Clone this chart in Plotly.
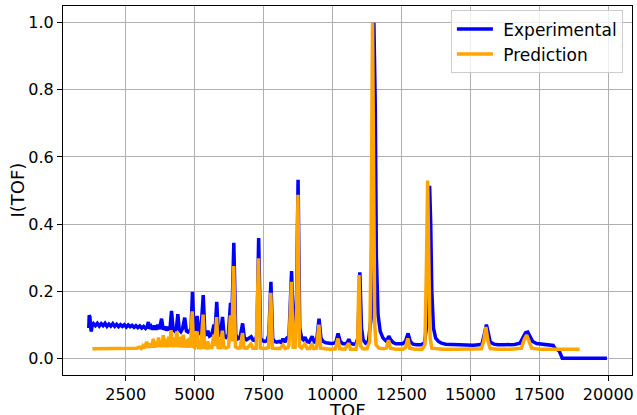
import plotly.graph_objects as go

# ---------------- data ----------------
exp_tof = [
    1160, 1175, 1200, 1225, 1250, 1280, 1330, 1400, 1470, 1540, 1610, 1680,
    1750, 1820, 1890, 1960, 2030, 2100, 2170, 2240, 2310, 2380, 2450, 2520,
    2590, 2660, 2730, 2800, 2870, 2940, 3010, 3080, 3150, 3220,
    3280, 3320, 3360, 3420, 3480, 3540, 3600, 3660, 3720, 3800, 3860, 3920,
    3980, 4040, 4100, 4160, 4220, 4280, 4340, 4390, 4440, 4500, 4560, 4640,
    4700, 4760, 4830, 4870, 4920, 4970,
    5020, 5090, 5150, 5220, 5310, 5370, 5420, 5480, 5540, 5620, 5700, 5740,
    5800, 5860, 5930, 6010, 6070, 6140, 6220, 6300, 6350, 6420, 6490, 6560,
    6640, 6740, 6800, 6880, 6960, 7050, 7120, 7200, 7260, 7320, 7390, 7460,
    7540, 7620, 7690, 7765, 7830, 7900, 7980, 8060, 8130, 8200, 8270, 8340,
    8420, 8515, 8580, 8640, 8700, 8750, 8810, 8880,
    8940, 9000, 9070, 9150, 9260, 9340, 9420, 9510, 9580, 9660, 9760, 9860,
    9960, 10060, 10130, 10200, 10280, 10380, 10480, 10540, 10590, 10650,
    10750, 10850, 10920, 10990, 11050, 11110, 11200, 11300, 11400, 11450,
    11500, 11550, 11590, 11650, 11730, 11830, 11930, 11980, 12040, 12110,
    12200, 12300, 12420, 12540, 12640, 12740, 12820, 12920, 13050, 13200,
    13330, 13420, 13470, 13520, 13560, 13600, 13660, 13740, 13840, 13950,
    14100, 14300, 14500, 14700, 14900, 15100, 15300, 15420, 15500, 15580,
    15650, 15720, 15850, 16000, 16200, 16400, 16600, 16800, 16900, 17000,
    17080, 17160, 17260, 17400, 17550, 17700, 17850, 18000, 18060, 18150,
    18220, 18280, 18330, 19950,
]
exp_int = [
    0.090, 0.128, 0.124, 0.095, 0.080, 0.096, 0.103, 0.097, 0.104, 0.096, 0.103, 0.097,
    0.104, 0.095, 0.102, 0.096, 0.103, 0.095, 0.101, 0.094, 0.100, 0.095, 0.100, 0.093,
    0.099, 0.094, 0.098, 0.092, 0.097, 0.091, 0.096, 0.090, 0.095, 0.089,
    0.094, 0.108, 0.088, 0.095, 0.086, 0.097, 0.085, 0.100, 0.087, 0.118, 0.085, 0.094,
    0.083, 0.093, 0.084, 0.141, 0.086, 0.081, 0.090, 0.131, 0.085, 0.079, 0.088, 0.121,
    0.081, 0.078, 0.083, 0.090, 0.198, 0.090,
    0.082, 0.126, 0.076, 0.072, 0.188, 0.074, 0.068, 0.082, 0.066, 0.070, 0.100, 0.080,
    0.168, 0.070, 0.068, 0.123, 0.066, 0.062, 0.070, 0.165, 0.120, 0.344, 0.070, 0.058,
    0.060, 0.104, 0.062, 0.055, 0.058, 0.064, 0.054, 0.052, 0.070, 0.358, 0.060, 0.052,
    0.050, 0.052, 0.070, 0.228, 0.058, 0.050, 0.048, 0.050, 0.047, 0.058, 0.048, 0.060,
    0.065, 0.260, 0.075, 0.070, 0.200, 0.532, 0.090, 0.060,
    0.055, 0.063, 0.050, 0.048, 0.065, 0.048, 0.050, 0.118, 0.060, 0.050, 0.046, 0.044,
    0.044, 0.045, 0.050, 0.074, 0.050, 0.043, 0.043, 0.048, 0.057, 0.045,
    0.042, 0.043, 0.060, 0.256, 0.090, 0.055, 0.045, 0.050, 0.120, 0.600,
    1.000, 0.750, 0.300, 0.130, 0.080, 0.060, 0.052, 0.055, 0.066, 0.055,
    0.047, 0.043, 0.042, 0.043, 0.050, 0.074, 0.050, 0.042, 0.040, 0.040,
    0.045, 0.100, 0.350, 0.514, 0.400, 0.200, 0.090, 0.060, 0.050, 0.045,
    0.042, 0.041, 0.040, 0.040, 0.040, 0.039, 0.040, 0.043, 0.070, 0.100,
    0.075, 0.048, 0.042, 0.040, 0.040, 0.040, 0.041, 0.045, 0.060, 0.076,
    0.078, 0.065, 0.050, 0.044, 0.043, 0.042, 0.041, 0.038, 0.030, 0.024,
    0.022, 0.010, 0.000, 0.000,
]

pred_tof = [
    1290, 2000, 2600, 2900, 3000, 3060, 3120, 3180, 3260, 3320, 3400, 3440,
    3500, 3550, 3610, 3640, 3690, 3740, 3790, 3820, 3860, 3910, 3960, 4010,
    4060, 4100, 4140, 4200, 4250, 4290, 4350, 4410, 4470, 4520, 4590, 4650,
    4700, 4750, 4800, 4850, 4910, 4960,
    5000, 5085, 5140, 5230, 5305, 5360, 5420, 5475, 5530, 5620, 5695, 5740,
    5795, 5850, 5930, 6005, 6060, 6150, 6230, 6295, 6345, 6415, 6480, 6560,
    6650, 6735, 6790, 6900, 7040, 7110, 7230, 7315, 7380, 7480, 7600, 7680,
    7760, 7820, 7950, 8100, 8200, 8280, 8380, 8420, 8510, 8570, 8640, 8700,
    8745, 8800, 8880,
    9000, 9080, 9180, 9255, 9320, 9420, 9505, 9570, 9700, 9900, 10100, 10195,
    10260, 10450, 10585, 10650, 10850, 10910, 10960, 11020, 11100, 11250,
    11350, 11400, 11450, 11490, 11530, 11580, 11680, 11850, 11950, 12030,
    12100, 12300, 12550, 12650, 12730, 12800, 13000, 13250, 13350, 13400,
    13450, 13490, 13540, 13600, 14000, 14500, 15000, 15400, 15480, 15560,
    15640, 15720, 16000, 16500, 16850, 16950, 17040, 17130, 17220, 17500,
    18000, 18500, 18960,
]
pred_int = [
    0.028, 0.028, 0.029, 0.030, 0.033, 0.029, 0.037, 0.030, 0.049, 0.031, 0.044, 0.032,
    0.058, 0.032, 0.050, 0.033, 0.062, 0.033, 0.052, 0.033, 0.069, 0.033, 0.058, 0.033,
    0.064, 0.033, 0.084, 0.033, 0.062, 0.033, 0.080, 0.033, 0.064, 0.032, 0.070, 0.032,
    0.056, 0.031, 0.060, 0.032, 0.140, 0.034,
    0.032, 0.080, 0.031, 0.031, 0.130, 0.032, 0.031, 0.050, 0.031, 0.032, 0.070, 0.036,
    0.123, 0.032, 0.031, 0.082, 0.032, 0.031, 0.034, 0.128, 0.050, 0.275, 0.034, 0.030,
    0.031, 0.075, 0.031, 0.030, 0.042, 0.030, 0.030, 0.298, 0.031, 0.029, 0.030, 0.032,
    0.195, 0.030, 0.029, 0.029, 0.040, 0.029, 0.031, 0.040, 0.228, 0.033, 0.033, 0.150,
    0.487, 0.036, 0.030,
    0.042, 0.029, 0.029, 0.044, 0.029, 0.030, 0.100, 0.030, 0.028, 0.027, 0.028, 0.059,
    0.028, 0.027, 0.045, 0.027, 0.027, 0.050, 0.248, 0.036, 0.028, 0.028,
    0.050, 0.350, 1.000, 0.500, 0.100, 0.040, 0.030, 0.028, 0.030, 0.054,
    0.030, 0.027, 0.027, 0.032, 0.059, 0.030, 0.027, 0.027, 0.040, 0.250,
    0.530, 0.300, 0.060, 0.030, 0.027, 0.027, 0.027, 0.028, 0.050, 0.093,
    0.050, 0.029, 0.027, 0.027, 0.030, 0.055, 0.069, 0.050, 0.030, 0.027,
    0.027, 0.027, 0.027,
]

x_ticks = [2500, 5000, 7500, 10000, 12500, 15000, 17500, 20000]
y_ticks = [0.0, 0.2, 0.4, 0.6, 0.8, 1.0]
x_label = "TOF"
y_label = "I(TOF)"

# ---------------- figure ----------------
fig = go.Figure()
fig.add_trace(go.Scatter(x=exp_tof, y=exp_int, mode="lines",
                         name="\u00a0Experimental",
                         line=dict(color="#0000ff", width=3.5)))
fig.add_trace(go.Scatter(x=pred_tof, y=pred_int, mode="lines",
                         name="\u00a0Prediction",
                         line=dict(color="#ffa500", width=3.5)))

font_family = "DejaVu Sans"
fig.update_layout(
    width=637, height=415,
    margin=dict(l=63, r=5, t=6, b=40),
    paper_bgcolor="white", plot_bgcolor="white",
    font=dict(family=font_family, color="black", size=16),
    showlegend=True,
    legend=dict(
        x=0.984, y=0.988, xanchor="right", yanchor="top",
        bgcolor="rgba(255,255,255,0.8)", bordercolor="#cccccc", borderwidth=1,
        font=dict(family=font_family, size=17, color="black"),
        itemwidth=36,
    ),
    annotations=[
        dict(text=x_label, xref="paper", yref="paper", x=0.5, y=-0.095,
             xanchor="center", yanchor="middle", showarrow=False,
             font=dict(family=font_family, size=18, color="black")),
        dict(text=y_label, xref="paper", yref="paper", x=-0.0808, y=0.5,
             xanchor="center", yanchor="middle", showarrow=False, textangle=-90,
             font=dict(family=font_family, size=18, color="black")),
    ],
)
fig.update_xaxes(
    range=[225, 20860], tickvals=x_ticks, ticktext=[str(v) for v in x_ticks],
    ticks="outside", ticklen=5, tickcolor="black", tickwidth=1,
    showline=True, linecolor="black", linewidth=1, mirror=True,
    showgrid=True, gridcolor="#b0b0b0", gridwidth=1, zeroline=False,
    tickfont=dict(size=16), automargin=False,
)
fig.update_yaxes(
    range=[-0.05, 1.05], tickvals=y_ticks, ticktext=[f"{v:.1f}" for v in y_ticks],
    ticks="outside", ticklen=5, tickcolor="black", tickwidth=1,
    showline=True, linecolor="black", linewidth=1, mirror=True,
    showgrid=True, gridcolor="#b0b0b0", gridwidth=1, zeroline=False,
    tickfont=dict(size=16), automargin=False,
)

fig.write_html("out.html")
